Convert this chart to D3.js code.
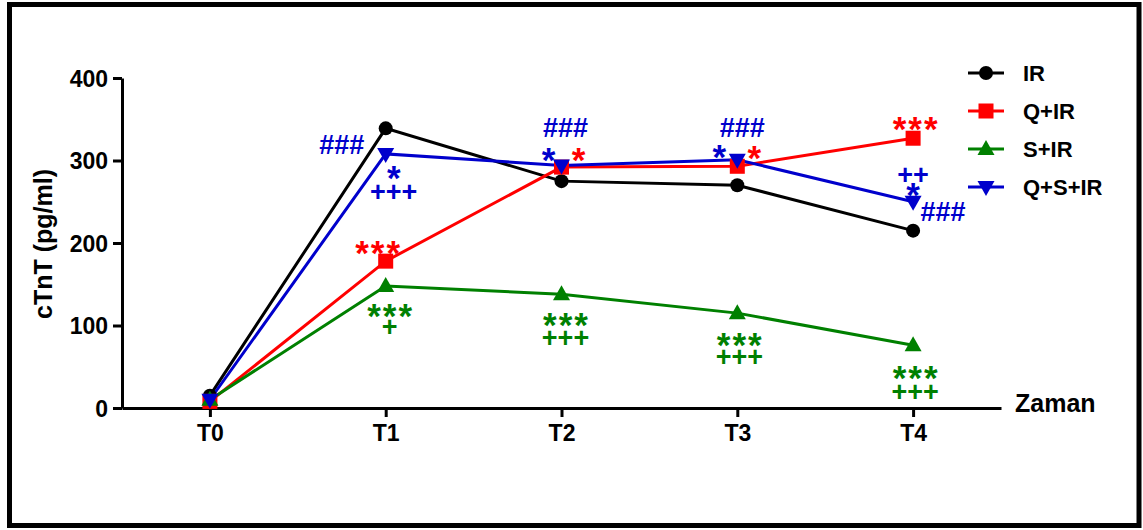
<!DOCTYPE html>
<html>
<head>
<meta charset="utf-8">
<script src="https://cdn.jsdelivr.net/npm/d3@7"></script>
<style>
  html, body { margin: 0; padding: 0; background: #fff; }
  svg { display: block; }
  text { font-family: "Liberation Sans", Arial, sans-serif; font-weight: bold; }
</style>
</head>
<body>
<svg id="chart" width="1143" height="530"></svg>
<script>
// Time points and cTnT levels (pg/ml) per group
const categories = ["T0", "T1", "T2", "T3", "T4"];
const seriesNames = ["IR", "Q+IR", "S+IR", "Q+S+IR"];
const irValues   = [15, 339, 275, 270, 215];
const qirValues  = [8, 178, 292, 293, 327];
const sirValues  = [10, 148, 138, 115, 76];
const qsirValues = [10, 308, 294, 301, 250];
const yTickValues = [0, 100, 200, 300, 400];

// Significance markers next to points
const sigTexts = [
  { series: "Q+S+IR", cat: "T1", text: "###" },
  { series: "Q+S+IR", cat: "T1", text: "*" },
  { series: "Q+S+IR", cat: "T1", text: "+++" },
  { series: "Q+IR",   cat: "T1", text: "***" },
  { series: "S+IR",   cat: "T1", text: "***" },
  { series: "S+IR",   cat: "T1", text: "+" },
  { series: "Q+S+IR", cat: "T2", text: "###" },
  { series: "Q+S+IR", cat: "T2", text: "*" },
  { series: "Q+IR",   cat: "T2", text: "*" },
  { series: "S+IR",   cat: "T2", text: "***" },
  { series: "S+IR",   cat: "T2", text: "+++" },
  { series: "Q+S+IR", cat: "T3", text: "###" },
  { series: "Q+S+IR", cat: "T3", text: "*" },
  { series: "Q+IR",   cat: "T3", text: "*" },
  { series: "S+IR",   cat: "T3", text: "***" },
  { series: "S+IR",   cat: "T3", text: "+++" },
  { series: "Q+IR",   cat: "T4", text: "***" },
  { series: "Q+S+IR", cat: "T4", text: "++" },
  { series: "Q+S+IR", cat: "T4", text: "*" },
  { series: "Q+S+IR", cat: "T4", text: "###" },
  { series: "S+IR",   cat: "T4", text: "***" },
  { series: "S+IR",   cat: "T4", text: "+++" }
];
// pixel offsets of each marker label's centre from its point (same order as sigTexts)
const sigOffsets = [
  [-44, -9], [8, 16], [8, 38], [-8, -16], [4, 22], [4, 41],
  [4, -38], [-13, -13], [17, -15], [4, 23], [4, 43],
  [5, -32], [-18, -11], [17, -16], [2, 24], [2, 43],
  [2, -17], [0, -27], [0, -15], [30, 10], [2, 25], [2, 46]
];

const colors = { "IR": "#000000", "Q+IR": "#ff0000", "S+IR": "#008000", "Q+S+IR": "#0000cc" };
const shapes = { "IR": "circle", "Q+IR": "square", "S+IR": "up", "Q+S+IR": "down" };
const valuesBy = { "IR": irValues, "Q+IR": qirValues, "S+IR": sirValues, "Q+S+IR": qsirValues };

const svg = d3.select("#chart");

// outer frame
svg.append("rect")
  .attr("x", 9.5).attr("y", 4.5).attr("width", 1129.5).attr("height", 521)
  .attr("fill", "none").attr("stroke", "#000").attr("stroke-width", 5);

const x = d3.scaleLinear().domain([-0.5, 4.5]).range([122, 1001]);
const y = d3.scaleLinear().domain([0, 400]).range([408, 78]);
const xPos = c => x(categories.indexOf(c));

// axes
const yAxis = d3.axisLeft(y).tickValues(yTickValues).tickSize(9).tickPadding(5).tickSizeOuter(0);
const gy = svg.append("g").attr("transform", "translate(122,0)").call(yAxis);
gy.select(".domain").attr("stroke", "#000").attr("stroke-width", 3);
gy.selectAll(".tick line").attr("stroke", "#000").attr("stroke-width", 3);
gy.selectAll(".tick text").attr("fill", "#000").style("font-size", "23px").attr("dy", "0.36em");

const xAxis = d3.axisBottom(x).tickValues(d3.range(categories.length))
  .tickFormat(i => categories[i]).tickSize(9).tickPadding(8).tickSizeOuter(0);
const gx = svg.append("g").attr("transform", "translate(0,408)").call(xAxis);
gx.select(".domain").attr("stroke", "#000").attr("stroke-width", 3);
gx.selectAll(".tick line").attr("stroke", "#000").attr("stroke-width", 3);
gx.selectAll(".tick text").attr("fill", "#000").style("font-size", "23px").attr("dy", "0.71em");

// axis titles
svg.append("text").attr("transform", "translate(52,244) rotate(-90)")
  .attr("text-anchor", "middle").style("font-size", "25px").text("cTnT (pg/ml)");
svg.append("text").attr("x", 1015).attr("y", 412)
  .style("font-size", "25px").text("Zaman");

// marker drawing
function marker(g, shape, color) {
  if (shape === "circle") {
    g.append("circle").attr("r", 7).attr("fill", color);
  } else if (shape === "square") {
    g.append("rect").attr("x", -7.5).attr("y", -7.5).attr("width", 15).attr("height", 15).attr("fill", color);
  } else if (shape === "up") {
    g.append("path").attr("d", "M0,-9L8.5,6L-8.5,6Z").attr("fill", color);
  } else {
    g.append("path").attr("d", "M0,9L8.5,-6L-8.5,-6Z").attr("fill", color);
  }
}

const line = d3.line().x((d, i) => x(i)).y(d => y(d));

seriesNames.forEach(name => {
  svg.append("path").datum(valuesBy[name])
    .attr("d", line).attr("fill", "none")
    .attr("stroke", colors[name]).attr("stroke-width", 3);
});
seriesNames.forEach(name => {
  valuesBy[name].forEach((v, i) => {
    const g = svg.append("g").attr("transform", `translate(${x(i)},${y(v)})`);
    marker(g, shapes[name], colors[name]);
  });
});

// significance labels: asterisks are spaced out, hashes/pluses set tight
sigTexts.forEach((s, k) => {
  const idx = categories.indexOf(s.cat);
  const px = xPos(s.cat) + sigOffsets[k][0];
  const py = y(valuesBy[s.series][idx]) + sigOffsets[k][1];
  const isStar = s.text[0] === "*";
  const spacing = isStar ? 2 : 0;
  svg.append("text")
    .attr("x", px + spacing / 2).attr("y", py + (isStar ? 20 : 9.5))
    .attr("text-anchor", "middle")
    .attr("fill", colors[s.series])
    .style("font-size", isStar ? "35px" : "27px")
    .style("letter-spacing", spacing + "px")
    .text(s.text);
});

// legend
const legend = svg.append("g");
seriesNames.forEach((name, i) => {
  const ly = 73 + i * 38;
  const g = legend.append("g").attr("transform", `translate(986,${ly})`);
  g.append("line").attr("x1", -18).attr("x2", 18).attr("stroke", colors[name]).attr("stroke-width", 3);
  marker(g, shapes[name], colors[name]);
  legend.append("text").attr("x", 1023).attr("y", ly + 8)
    .style("font-size", "22px").text(name);
});
</script>
</body>
</html>
